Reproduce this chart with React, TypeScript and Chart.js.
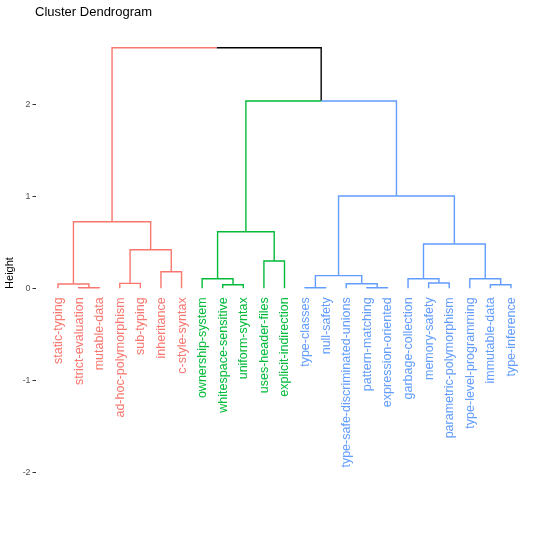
import React, { useEffect, useRef } from "react";
import { Chart, registerables } from "chart.js";

Chart.register(...registerables);

// ---- data ----
const leafLabels = [
  "static-typing", "strict-evaluation", "mutable-data", "ad-hoc-polymorphism", "sub-typing",
  "inheritance", "c-style-syntax", "ownership-system", "whitespace-sensitive", "uniform-syntax",
  "uses-header-files", "explicit-indirection", "type-classes", "null-safety",
  "type-safe-discriminated-unions", "pattern-matching", "expression-oriented", "garbage-collection",
  "memory-safety", "parametric-polymorphism", "type-level-programming", "immutable-data", "type-inference",
];
const leafCluster = [0, 0, 0, 0, 0, 0, 0, 1, 1, 1, 1, 1, 2, 2, 2, 2, 2, 2, 2, 2, 2, 2, 2];
const clusterColors = ["#F8766D", "#00BA38", "#619CFF"];
const mixedColor = "#000000";

// hclust-style merges: negative = leaf (1-based), positive = earlier merge (1-based)
const mergeLeft = [-2, -13, -16, -9, -22, -1, -4, -15, -19, -8, -18, -21, 2, -6, -11, 7, 11, 10, 6, 13, 18, 19];
const mergeRight = [-3, -14, -17, -10, -23, 1, -5, 3, -20, 4, 9, 5, 8, -7, -12, 14, 12, 15, 16, 17, 20, 21];
const mergeHeight = [
  0.007, 0.007, 0.007, 0.039, 0.039, 0.047, 0.054, 0.05, 0.058, 0.104, 0.104, 0.104,
  0.138, 0.18, 0.297, 0.42, 0.482, 0.616, 0.725, 1.004, 2.038, 2.618,
];
const yTicks = [-2, -1, 0, 1, 2];

const FONT = "'Liberation Sans', Arial, Helvetica, sans-serif";

function buildDatasets() {
  const pos: number[] = [];
  const col: number[] = [];
  const info = (ref: number) => {
    if (ref < 0) {
      const i = -ref - 1;
      return { x: i + 1, h: 0, c: leafCluster[i] };
    }
    const k = ref - 1;
    return { x: pos[k], h: mergeHeight[k], c: col[k] };
  };
  const datasets: any[] = [];
  for (let k = 0; k < mergeLeft.length; k++) {
    const a = info(mergeLeft[k]);
    const b = info(mergeRight[k]);
    pos[k] = (a.x + b.x) / 2;
    col[k] = a.c === b.c ? a.c : -1;
    const h = mergeHeight[k];
    for (const ch of [a, b]) {
      const color = ch.c >= 0 ? clusterColors[ch.c] : mixedColor;
      datasets.push({
        data: [
          { x: ch.x, y: ch.h },
          { x: ch.x, y: h },
          { x: pos[k], y: h },
        ],
        showLine: true,
        borderColor: color,
        backgroundColor: color,
        borderWidth: 1.4,
        pointRadius: 0,
        pointHoverRadius: 0,
        fill: false,
        tension: 0,
        borderCapStyle: "butt",
        borderJoinStyle: "miter",
      });
    }
  }
  return datasets;
}

const leafLabelPlugin = {
  id: "leafLabels",
  afterDatasetsDraw(chart: any) {
    const { ctx, scales } = chart;
    const xs = scales.x;
    const ys = scales.y;
    ctx.save();
    ctx.font = `12.5px ${FONT}`;
    ctx.textAlign = "right";
    ctx.textBaseline = "middle";
    leafLabels.forEach((lab, i) => {
      const px = xs.getPixelForValue(i + 1);
      const py = ys.getPixelForValue(0) + 9;
      ctx.save();
      ctx.translate(px + 0.5, py);
      ctx.rotate(-Math.PI / 2);
      ctx.fillStyle = clusterColors[leafCluster[i]];
      ctx.fillText(lab, 0, 0);
      ctx.restore();
    });
    ctx.restore();
  },
};

const titlePlugin = {
  id: "plotTitle",
  afterDraw(chart: any) {
    const { ctx } = chart;
    ctx.save();
    ctx.font = `13px ${FONT}`;
    ctx.fillStyle = "#000000";
    ctx.textAlign = "left";
    ctx.textBaseline = "alphabetic";
    ctx.fillText("Cluster Dendrogram", 35, 15.5);
    ctx.restore();
  },
};

export default function App() {
  const canvasRef = useRef<HTMLCanvasElement | null>(null);

  useEffect(() => {
    if (!canvasRef.current) return;
    const chart = new Chart(canvasRef.current, {
      type: "scatter",
      data: { datasets: buildDatasets() },
      options: {
        animation: false,
        responsive: true,
        maintainAspectRatio: false,
        events: [],
        layout: { padding: { top: 26, bottom: 20, left: 0, right: 6.5 } },
        plugins: {
          legend: { display: false },
          tooltip: { enabled: false },
          title: { display: false },
        },
        scales: {
          x: {
            type: "linear",
            min: -0.093,
            max: 24.093,
            display: false,
          },
          y: {
            type: "linear",
            min: -2.52,
            max: 2.854,
            afterBuildTicks: (s: any) => {
              s.ticks = yTicks.map((v) => ({ value: v }));
            },
            afterFit: (s: any) => {
              s.width = 35.5;
            },
            ticks: {
              font: { family: FONT, size: 8.8 },
              color: "#4D4D4D",
              padding: 2,
            },
            grid: {
              drawOnChartArea: false,
              drawTicks: true,
              tickLength: 3,
              color: "#333333",
              lineWidth: 1,
            },
            border: { display: false },
            title: {
              display: true,
              text: "Height",
              color: "#000000",
              font: { family: FONT, size: 11 },
              padding: { top: 3.5, bottom: 0 },
            },
          },
        },
      } as any,
      plugins: [leafLabelPlugin, titlePlugin],
    });
    return () => chart.destroy();
  }, []);

  return (
    <div style={{ position: "absolute", left: 0, top: 0, width: 540, height: 540, background: "#ffffff" }}>
      <canvas ref={canvasRef} />
    </div>
  );
}
